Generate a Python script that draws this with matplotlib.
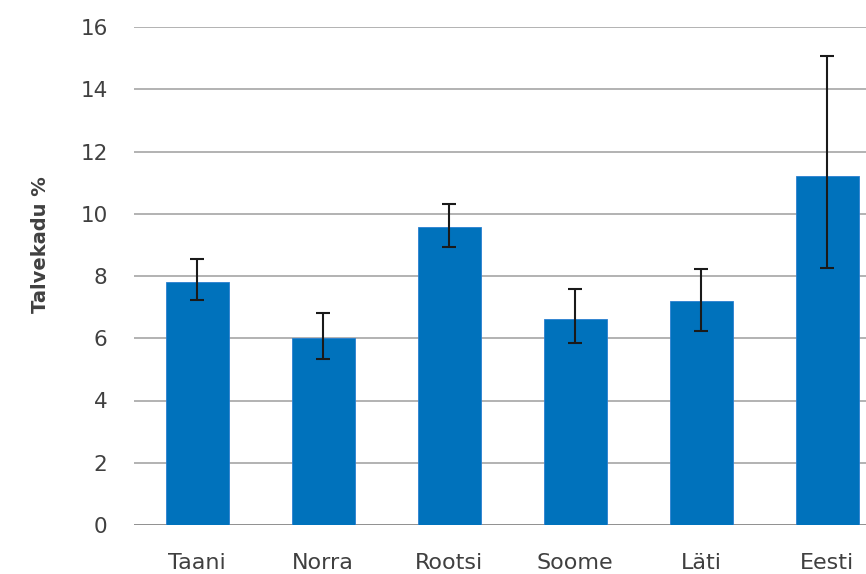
import matplotlib.pyplot as plt
import numpy as np

countries = ['Taani', 'Norra', 'Rootsi', 'Soome', 'Läti', 'Eesti']
values = [7.8, 6.0, 9.57, 6.62, 7.2, 11.2]
err_hi = [8.55, 6.81, 10.31, 7.58, 8.22, 15.07]
err_lo = [7.23, 5.33, 8.93, 5.85, 6.23, 8.26]

fig = plt.figure(figsize=(8.66, 5.74), dpi=100)
ax = fig.add_axes([134 / 866, 1 - 525 / 574, 1 - 134 / 866, (525 - 27) / 574])

x = np.arange(len(countries))
vals = np.array(values)
yerr = [vals - np.array(err_lo), np.array(err_hi) - vals]

ax.bar(x, vals, width=0.5, color='#0072BC', edgecolor='#2A7FD0', linewidth=0.6, zorder=2)
ax.errorbar(x, vals, yerr=yerr, fmt='none', ecolor='#1a1a1a', elinewidth=1.5,
            capsize=5, capthick=1.5, zorder=3)

ax.set_ylim(0, 16)
ax.set_yticks(range(0, 17, 2))
ax.set_xlim(-0.5, -0.5 + (866 - 134) / 126)
ax.set_xticks(x)
ax.set_xticklabels(countries)

ax.grid(axis='y', color='#A6A6A6', linewidth=1.2, zorder=0)
ax.set_axisbelow(True)
for s in ['top', 'right', 'left', 'bottom']:
    ax.spines[s].set_visible(False)
ax.axhline(0, color='#8C8C8C', linewidth=1.2, zorder=1)

ax.tick_params(axis='both', length=0, colors='#404040')
ax.tick_params(axis='y', pad=19, labelsize=15.5)
ax.tick_params(axis='x', pad=20, labelsize=16)

fig.text(40 / 866, 1 - 245 / 574, 'Talvekadu %', rotation=90, fontsize=14,
         fontweight='bold', color='#404040', ha='center', va='center')

fig.savefig('out.png', dpi=100)
